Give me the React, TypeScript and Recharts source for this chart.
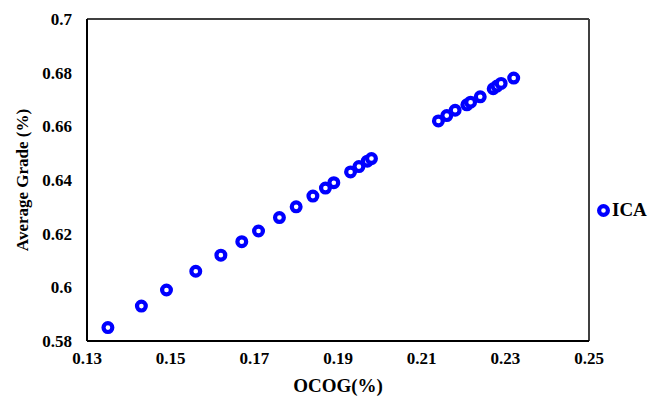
import { CartesianGrid, Legend, ReferenceLine, Scatter, ScatterChart, XAxis, YAxis } from "recharts";

const ocog = [
  0.135, 0.143, 0.149, 0.156, 0.162, 0.167, 0.171, 0.176, 0.18, 0.184, 0.187, 0.189,
  0.193, 0.195, 0.197, 0.198, 0.214, 0.216, 0.218, 0.2208, 0.2217, 0.224, 0.2271,
  0.228, 0.229, 0.232,
];
const grade = [
  0.585, 0.593, 0.599, 0.606, 0.612, 0.617, 0.621, 0.626, 0.63, 0.634, 0.637, 0.639,
  0.643, 0.645, 0.647, 0.648, 0.662, 0.664, 0.666, 0.668, 0.669, 0.671, 0.674, 0.675,
  0.676, 0.678,
];
const xTicks = [0.13, 0.15, 0.17, 0.19, 0.21, 0.23, 0.25];
const yTicks = [0.58, 0.6, 0.62, 0.64, 0.66, 0.68, 0.7];

const data = ocog.map((x, i) => ({ x, y: grade[i] }));

const serif = "'Liberation Serif', 'Times New Roman', serif";
const blue = "#0000ff";

const Ring = (props: any) => (
  <circle cx={props.cx} cy={props.cy} r={4.4} fill="#fff" stroke={blue} strokeWidth={4.2} />
);

const LegendBox = (props: any) => (
  <div style={{ display: "flex", alignItems: "center", fontFamily: serif, fontWeight: "bold", fontSize: 19 }}>
    {(props.payload || []).map((p: any) => (
      <span key={p.value} style={{ display: "flex", alignItems: "center" }}>
        <svg width={15} height={15} style={{ marginRight: 1 }}>
          <circle cx={7.5} cy={7.5} r={4.4} fill="#fff" stroke={blue} strokeWidth={4.2} />
        </svg>
        {p.value}
      </span>
    ))}
  </div>
);

export default function App() {
  return (
    <div style={{ position: "absolute", left: 0, top: 0, background: "#fff" }}>
      <ScatterChart width={656} height={402} margin={{ top: 19, right: 67, bottom: 0, left: 0 }}>
        <CartesianGrid horizontal={false} vertical={false} />
        <XAxis
          type="number"
          dataKey="x"
          domain={[0.13, 0.25]}
          ticks={xTicks}
          tickFormatter={(v) => String(v)}
          tickLine={false}
          axisLine={{ stroke: "#000", strokeWidth: 2 }}
          height={61}
          tick={{ fontFamily: serif, fontWeight: "bold", fontSize: 17, fill: "#000" }}
          tickMargin={5}
          label={{
            value: "OCOG(%)",
            position: "insideBottom",
            offset: 10,
            style: { fontFamily: serif, fontWeight: "bold", fontSize: 19, fill: "#000" },
          }}
        />
        <YAxis
          type="number"
          dataKey="y"
          domain={[0.58, 0.7]}
          ticks={yTicks}
          tickFormatter={(v) => String(v)}
          tickLine={false}
          axisLine={{ stroke: "#000", strokeWidth: 2 }}
          width={87}
          tick={{ fontFamily: serif, fontWeight: "bold", fontSize: 17, fill: "#000" }}
          tickMargin={9}
          label={{
            value: "Average Grade (%)",
            angle: -90,
            position: "insideLeft",
            offset: 22,
            style: { fontFamily: serif, fontWeight: "bold", fontSize: 17, fill: "#000", textAnchor: "middle" },
          }}
        />
        <ReferenceLine y={0.7} stroke="#404040" strokeWidth={2} />
        <ReferenceLine x={0.25} stroke="#404040" strokeWidth={2} />
        <Legend
          layout="horizontal"
          align="center"
          verticalAlign="middle"
          content={<LegendBox />}
          wrapperStyle={{ left: 596, top: 199, width: 60 }}
        />
        <Scatter name="ICA" data={data} fill={blue} shape={<Ring />} isAnimationActive={false} />
      </ScatterChart>
    </div>
  );
}
